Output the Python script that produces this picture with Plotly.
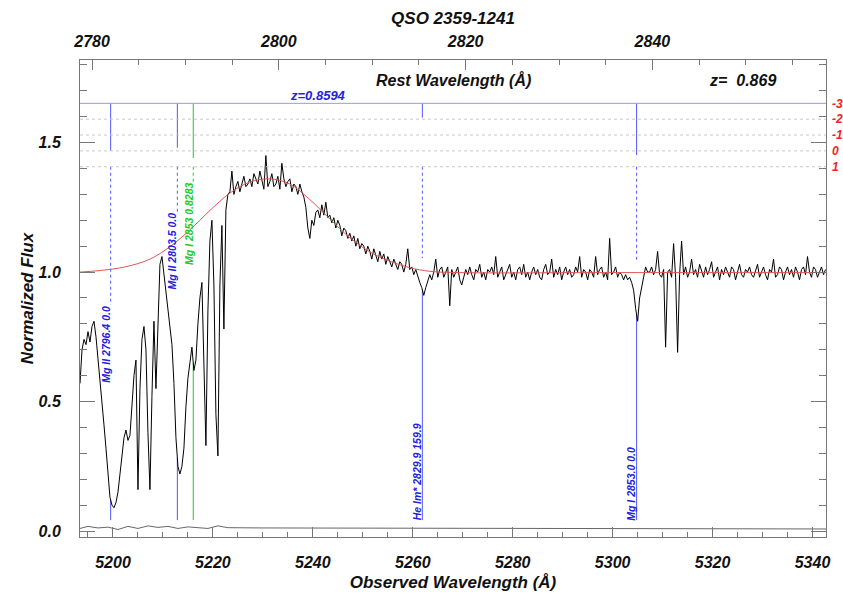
import numpy as np
import plotly.graph_objects as go

# ---------------------------------------------------------------------------
# Spectrum of QSO 2359-1241 around the Mg II region (normalised flux)
# ---------------------------------------------------------------------------
z_em = 0.869
wave_start = 5193.4     # first pixel, observed Angstrom
wave_step = 0.4         # dispersion, Angstrom / pixel

flux = [
    0.57, 0.70, 0.74, 0.72, 0.77, 0.73, 0.79, 0.81, 0.75, 0.67,
    0.58, 0.48, 0.41, 0.32, 0.21, 0.13, 0.10, 0.09, 0.11, 0.15,
    0.22, 0.29, 0.36, 0.39, 0.35, 0.37, 0.48, 0.60, 0.66, 0.16,
    0.55, 0.74, 0.79, 0.70, 0.38, 0.16, 0.52, 0.81, 0.55, 0.80,
    1.03, 1.06, 0.99, 0.94, 0.87, 0.79, 0.72, 0.57, 0.36, 0.25,
    0.22, 0.25, 0.32, 0.48, 0.59, 0.65, 0.71, 0.62, 0.66, 0.80,
    0.90, 0.96, 0.60, 0.33, 0.85, 1.12, 1.20, 0.95, 0.45, 0.29,
    0.95, 1.18, 0.78, 1.24, 1.30,
    1.31, 1.39, 1.30, 1.33, 1.35, 1.31, 1.34, 1.37, 1.33, 1.34,
    1.36, 1.33, 1.38, 1.36, 1.34, 1.39, 1.35, 1.32, 1.45, 1.33,
    1.35, 1.38, 1.33, 1.34, 1.37, 1.32, 1.42, 1.36, 1.33, 1.35,
    1.36, 1.31, 1.34, 1.33, 1.30, 1.34, 1.31, 1.29, 1.25, 1.17,
    1.13, 1.20, 1.18, 1.23, 1.24, 1.21, 1.26, 1.22, 1.27, 1.21,
    1.22, 1.19, 1.21, 1.17, 1.20, 1.18, 1.14, 1.17, 1.16, 1.13,
    1.15, 1.12, 1.14, 1.10, 1.13, 1.09, 1.11, 1.10, 1.07, 1.10,
    1.08, 1.05, 1.09, 1.06, 1.04, 1.08, 1.05, 1.07, 1.03, 1.06,
    1.04, 1.02, 1.05, 1.03, 1.01, 1.04, 1.03, 1.00, 1.03, 1.09,
    1.01, 1.02, 0.99, 1.01, 0.98, 0.96, 0.94, 0.91, 0.94, 0.97,
    0.99, 0.97, 1.00, 1.05, 0.98, 1.01, 1.02, 0.98, 1.00, 1.02,
    0.87, 1.01, 0.98, 1.00, 1.02, 0.97, 0.95, 0.98, 1.01, 0.99,
    1.02, 0.99, 0.97, 1.01, 1.00, 1.03, 0.98, 1.00, 0.97, 1.01,
    1.00, 1.02, 0.99, 1.06, 0.98, 1.00, 1.02, 0.97, 0.99, 1.01,
    1.03, 0.98, 1.00, 0.97, 1.01, 1.02, 0.99, 1.03, 0.98, 1.00,
    0.97, 1.00, 1.02, 0.99, 1.01, 0.98, 0.97, 1.01, 1.03, 0.99,
    1.00, 1.05, 0.98, 1.01, 0.99, 1.02, 0.97, 1.00, 1.02, 0.99,
    1.01, 0.98, 0.99, 1.02, 1.00, 1.06, 0.98, 1.01, 1.00, 0.97,
    1.01, 1.00, 0.98, 1.06, 0.99, 1.01, 1.02, 0.98, 1.00, 0.97,
    1.13, 0.99, 1.00, 1.02, 0.98, 1.00, 0.99, 0.97, 0.99, 0.97,
    0.98, 0.96, 0.93, 0.86, 0.81, 0.90, 0.94, 0.97, 1.02, 1.00,
    1.00, 1.02, 0.99, 1.01, 1.08, 0.99, 0.98, 1.01, 0.71, 1.00,
    1.01, 0.98, 1.11, 0.98, 0.69, 0.99, 1.12, 0.99, 1.02, 0.98,
    1.00, 1.05, 0.99, 1.01, 0.98, 1.03, 1.00, 0.98, 1.02, 0.99,
    1.01, 1.04, 0.98, 1.00, 1.02, 0.97, 1.01, 0.99, 1.02, 1.00,
    0.98, 1.02, 1.01, 0.97, 1.00, 1.03, 0.99, 0.98, 1.01, 1.00,
    1.02, 0.99, 0.98, 1.01, 1.03, 0.98, 1.00, 1.02, 0.99, 0.97,
    1.01, 1.00, 1.05, 0.98, 0.99, 1.02, 1.01, 0.97, 1.00, 1.02,
    0.99, 1.01, 0.98, 1.02, 1.00, 0.97, 1.01, 1.02, 0.99, 1.06,
    1.00, 0.98, 1.02, 1.01, 0.98, 1.00, 1.02, 0.99, 1.01,
]
wave = wave_start + wave_step * np.arange(len(flux))

# Continuum fit
cont_wave = [5193.4, 5197.4, 5202.4, 5207.4, 5211.4, 5215.4, 5219.4, 5223.4,
             5227.4, 5231.4, 5235.4, 5239.4, 5243.4, 5247.4, 5251.4, 5255.4,
             5259.4, 5263.4, 5269.4, 5297.4, 5342.7]
cont_flux = [1.000, 1.006, 1.020, 1.050, 1.098, 1.163, 1.238, 1.305,
             1.348, 1.360, 1.340, 1.280, 1.205, 1.133, 1.078, 1.042,
             1.017, 1.003, 0.998, 0.998, 0.998]

# 1-sigma error array
err_wave = [5193.4, 5195.0, 5197.0, 5199.0, 5201.0, 5203.0, 5205.0, 5207.0,
            5209.0, 5211.0, 5213.0, 5215.0, 5217.0, 5219.0, 5221.0, 5223.0,
            5230.0, 5250.0, 5260.0, 5270.0, 5300.0, 5342.7]
err_flux = [0.010, 0.018, 0.012, 0.015, 0.006, 0.018, 0.010, 0.020,
            0.014, 0.018, 0.010, 0.016, 0.013, 0.010, 0.020, 0.013,
            0.012, 0.011, 0.012, 0.010, 0.011, 0.008]

# Line identifications
line_labels = ["Mg II 2796.4 0.0", "Mg II 2803.5 0.0", "Mg I 2853 0.8283",
               "He Im* 2829.9 159.9", "Mg I 2853.0 0.0"]
line_rest = [2796.35, 2803.53, 2852.96, 2829.90, 2852.96]
line_z = [0.8594, 0.8594, 0.8283, 0.8594, 0.8594]
line_strength = [0.0, -0.2, 0.45, -2.1, 0.26]   # on the -3 .. 1 scale
line_is_alt = [False, False, True, False, False]

# Strength scale shown at the right
level_ticks = [-3, -2, -1, 0, 1]
level_text = ["-3", "-2", "-1", "0", "1"]

# ---------------------------------------------------------------------------
FONT = "Liberation Sans, Arial, Helvetica, sans-serif"
BLUE_LINE = "#5555ff"
BLUE_TEXT = "#2222dd"
GREEN_LINE = "#22cc22"
GREEN_TEXT = "#22cc22"
AXIS = "#777777"

x_range = [5193.4, 5342.7]
y_range = [-0.023, 1.819]
level_zero = 1.468      # flux at which level 0 sits
level_step = 0.0612     # flux per level unit


def level_to_flux(k):
    return level_zero - level_step * k


y3_range = [(level_zero - y_range[0]) / level_step,
            (level_zero - y_range[1]) / level_step]

# label geometry (flux units): end of dotted guide, centre of label
guide_end = [0.873, 1.232, 1.347, 1.054, 1.040]
label_mid = [0.722, 1.081, 1.187, 0.228, 0.181]
bottom_end = 0.042

fig = go.Figure()

# strength scale lines
for k in level_ticks:
    fig.add_trace(go.Scatter(
        x=x_range, y=[k, k], yaxis="y3", mode="lines", hoverinfo="skip",
        line=dict(color="#9999ee" if k == -3 else "#c8c8c8", width=1,
                  dash="solid" if k == -3 else "dot")))

# error spectrum
fig.add_trace(go.Scatter(x=err_wave, y=err_flux, mode="lines",
                         line=dict(color="#666666", width=1), hoverinfo="skip"))

# line-ID markers
annotations = []
for i, lab in enumerate(line_labels):
    lam = line_rest[i] * (1.0 + line_z[i])
    lc = GREEN_LINE if line_is_alt[i] else BLUE_LINE
    tc = GREEN_TEXT if line_is_alt[i] else BLUE_TEXT
    fig.add_trace(go.Scatter(
        x=[lam, lam], y=[level_to_flux(-3), level_to_flux(line_strength[i])],
        mode="lines", line=dict(color=lc, width=1), hoverinfo="skip"))
    fig.add_trace(go.Scatter(
        x=[lam, lam], y=[level_to_flux(1), guide_end[i]],
        mode="lines", line=dict(color=lc, width=1, dash="dot"), hoverinfo="skip"))
    f_at = float(np.interp(lam, wave, flux))
    fig.add_trace(go.Scatter(
        x=[lam, lam], y=[f_at, bottom_end],
        mode="lines", line=dict(color=lc, width=1), hoverinfo="skip"))
    annotations.append(dict(
        x=lam, y=label_mid[i], xref="x", yref="y", text=lab, showarrow=False,
        textangle=-90, xanchor="center", yanchor="middle", xshift=-5,
        font=dict(family=FONT, size=10.5, color=tc, weight="bold", style="italic")))

# spectrum and continuum
fig.add_trace(go.Scatter(x=wave, y=flux, mode="lines",
                         line=dict(color="black", width=1), hoverinfo="skip"))
fig.add_trace(go.Scatter(x=cont_wave, y=cont_flux, mode="lines",
                         line=dict(color="#e05555", width=1, shape="spline"),
                         hoverinfo="skip"))

# rest-frame axis carrier
fig.add_trace(go.Scatter(x=[x_range[0] / (1 + z_em), x_range[1] / (1 + z_em)],
                         y=[None, None], xaxis="x2", mode="lines",
                         hoverinfo="skip", showlegend=False))

annotations += [
    dict(text="Rest Wavelength (Å)", x=0.5, y=0.958, xref="paper", yref="paper",
         showarrow=False, xanchor="center", yanchor="middle",
         font=dict(family=FONT, size=16, color="#111", weight="bold", style="italic")),
    dict(text="z=  0.869", x=0.888, y=0.958, xref="paper", yref="paper",
         showarrow=False, xanchor="center", yanchor="middle",
         font=dict(family=FONT, size=16, color="#111", weight="bold", style="italic")),
    dict(text="z=0.8594", x=0.319, y=0.925, xref="paper", yref="paper",
         showarrow=False, xanchor="center", yanchor="middle",
         font=dict(family=FONT, size=13, color=BLUE_TEXT, weight="bold", style="italic")),
]

tick_font = dict(family=FONT, size=16, color="#111", weight="bold", style="italic")
title_font = dict(family=FONT, size=17, color="#111", weight="bold", style="italic")

fig.update_layout(
    width=843, height=597,
    margin=dict(l=80, r=17, t=60, b=60),
    paper_bgcolor="white", plot_bgcolor="white",
    showlegend=False,
    font=dict(family=FONT, color="#111"),
    title=dict(text="QSO 2359-1241", x=0.5, xref="paper", xanchor="center",
               y=0.970, yref="container", yanchor="middle",
               font=dict(family=FONT, size=17, color="#111", weight="bold", style="italic")),
    xaxis=dict(range=x_range, tick0=5200, dtick=20, ticks="inside", ticklen=10,
               tickcolor=AXIS, showline=True, linecolor=AXIS, linewidth=1,
               showgrid=False, zeroline=False, tickfont=tick_font,
               automargin=False, ticklabelstandoff=11,
               minor=dict(dtick=5, ticks="inside", ticklen=5, tickcolor=AXIS),
               title=dict(text="Observed Wavelength (Å)", font=title_font, standoff=5)),
    xaxis2=dict(range=[x_range[0] / (1 + z_em), x_range[1] / (1 + z_em)],
                overlaying="x", side="top", anchor="y", tick0=2780, dtick=20,
                ticks="inside", ticklen=10, tickcolor=AXIS, showline=True,
                linecolor=AXIS, linewidth=1, showgrid=False, zeroline=False,
                tickfont=tick_font, automargin=False, ticklabelstandoff=6,
                minor=dict(dtick=5, ticks="inside", ticklen=5, tickcolor=AXIS)),
    yaxis=dict(range=y_range, tick0=0, dtick=0.5, tickformat=".1f", ticks="inside",
               ticklen=15, tickcolor=AXIS, showline=True, linecolor=AXIS,
               linewidth=1, mirror="ticks", showgrid=False, zeroline=False,
               tickfont=tick_font, automargin=False, ticklabelstandoff=15,
               minor=dict(dtick=0.1, ticks="inside", ticklen=7, tickcolor=AXIS),
               title=dict(text="Normalized Flux", font=title_font, standoff=0)),
    yaxis3=dict(range=y3_range, overlaying="y", side="right", anchor="x",
                tickvals=level_ticks, ticktext=level_text, ticks="",
                showline=False, showgrid=False, zeroline=False, automargin=False,
                ticklabelstandoff=5,
                tickfont=dict(family=FONT, size=12, color="#ee2222",
                              weight="bold", style="italic")),
    annotations=annotations,
)

fig.write_html("out.html")
